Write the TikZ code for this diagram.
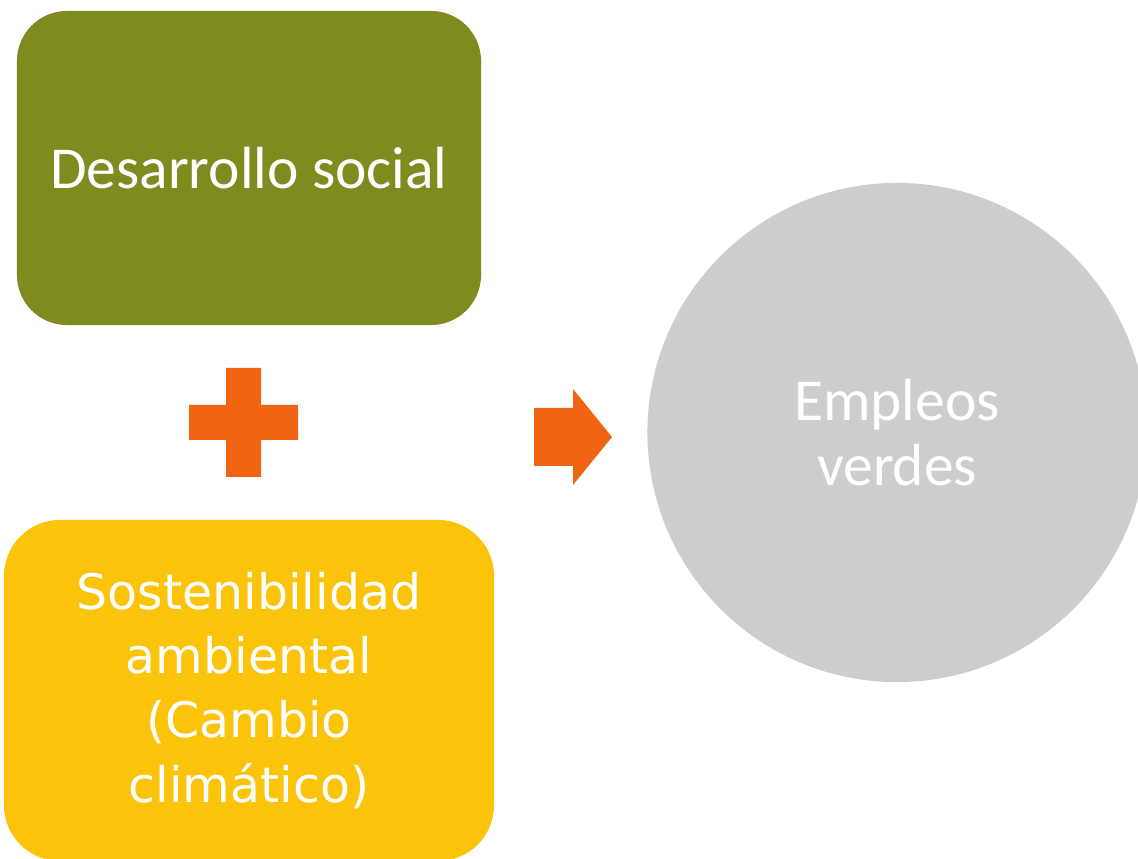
\documentclass[tikz,border=0pt]{standalone}
\usepackage{fontspec}
\setmainfont{Carlito}
\newfontfamily\dejavu{DejaVu Sans}
\definecolor{olivo}{RGB}{127,138,31}
\definecolor{naranja}{RGB}{241,101,18}
\definecolor{amarillo}{RGB}{252,195,11}
\definecolor{gris}{RGB}{205,205,205}
\begin{document}
\begin{tikzpicture}[x=0.025cm,y=-0.025cm,line join=round]
		\tikzset{caja/.style={text=white,align=center,inner sep=0pt}}
		\useasboundingbox (0,0) rectangle (1138,859);
		\node[caja,fill=olivo,rounded corners=1.25cm,minimum width=11.6cm,minimum height=7.85cm,font=\fontsize{42.3}{46}\selectfont] (social) at (249,168) {Desarrollo social};
		\node[caja,fill=amarillo,rounded corners=1.4cm,minimum width=12.25cm,minimum height=8.525cm,font=\dejavu\fontsize{34.8}{45.7}\selectfont] (ambiental) at (249,690.5) {Sostenibilidad\\ambiental\\(Cambio\\climático)};
		\node[caja,circle,fill=gris,minimum size=12.475cm,font=\fontsize{42.3}{46.1}\selectfont] (empleos) at (897,432.5) {Empleos\\verdes};
		% signo mas
		\coordinate (mas) at (243.5,422.5);
		\fill[naranja,shift={(mas)}] (-17.5,-54.5) -- (17.5,-54.5) -- (17.5,-17.5) -- (54.5,-17.5) -- (54.5,17.5) -- (17.5,17.5) -- (17.5,54.5) -- (-17.5,54.5) -- (-17.5,17.5) -- (-54.5,17.5) -- (-54.5,-17.5) -- (-17.5,-17.5) -- cycle;
		% flecha
		\coordinate (flecha) at (534,437);
		\fill[naranja] (flecha) ++(0,-29) -- ++(39,0) -- ++(0,-19) -- ++(39,48) -- ++(-39,48) -- ++(0,-19) -- ++(-39,0) -- cycle;
	\end{tikzpicture}
\end{document}
